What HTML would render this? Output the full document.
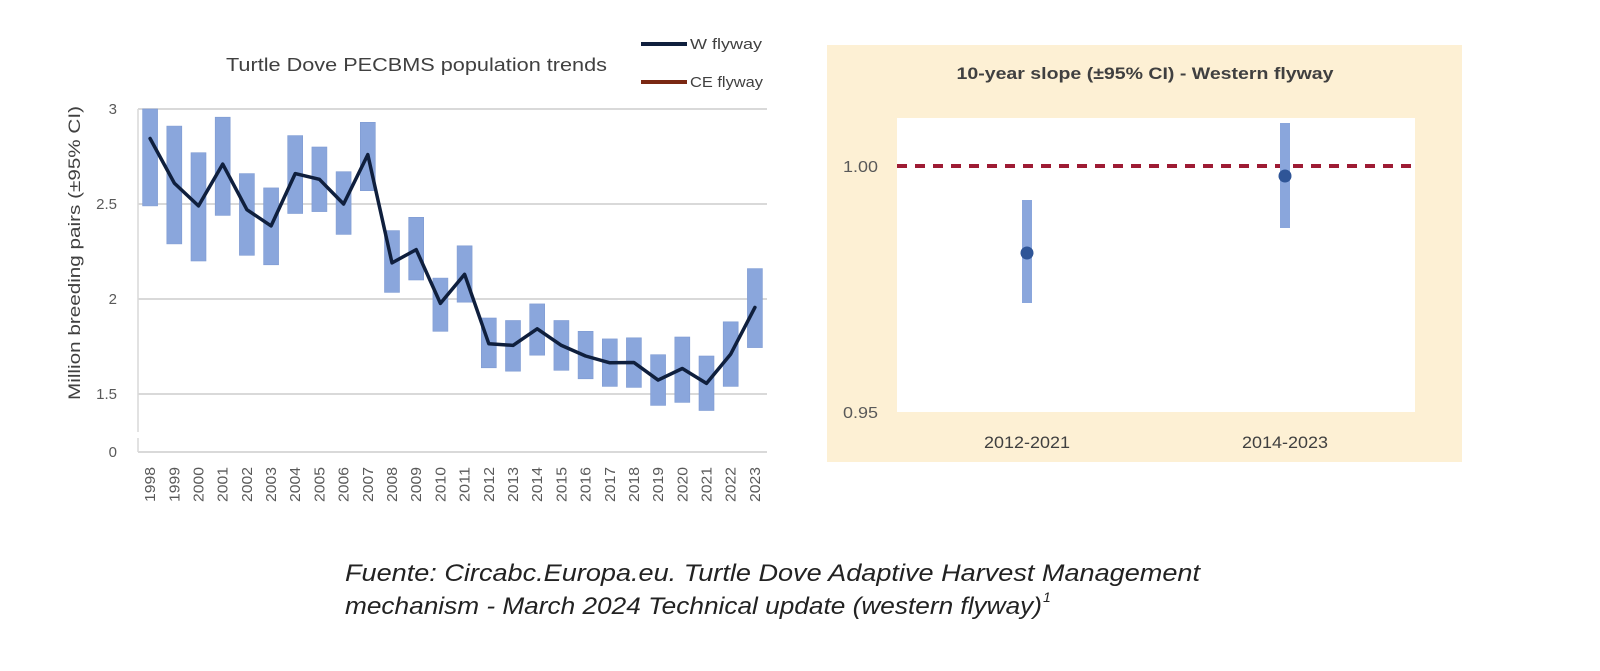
<!DOCTYPE html>
<html>
<head>
<meta charset="utf-8">
<style>
  html, body { margin: 0; padding: 0; background: #ffffff; }
  body { width: 1600px; height: 671px; overflow: hidden; }
  svg { display: block; }
  text { font-family: "Liberation Sans", "DejaVu Sans", sans-serif; }
</style>
</head>
<body>
<svg width="1600" height="671" viewBox="0 0 1600 671" xmlns="http://www.w3.org/2000/svg">
  <rect x="0" y="0" width="1600" height="671" fill="#ffffff"/>

  <!-- ================= LEFT CHART ================= -->
  <!-- Title -->
  <text x="226" y="71" font-size="18" fill="#404040" textLength="381" lengthAdjust="spacingAndGlyphs">Turtle Dove PECBMS population trends</text>

  <!-- Legend -->
  <line x1="641" y1="44" x2="687" y2="44" stroke="#0f1f3d" stroke-width="4"/>
  <text x="690" y="49" font-size="15" fill="#404040" textLength="72" lengthAdjust="spacingAndGlyphs">W flyway</text>
  <line x1="641" y1="82" x2="687" y2="82" stroke="#7a2812" stroke-width="4"/>
  <text x="690" y="87" font-size="15" fill="#404040" textLength="73" lengthAdjust="spacingAndGlyphs">CE flyway</text>

  <!-- Gridlines -->
  <g stroke="#d9d9d9" stroke-width="2">
    <line x1="138" y1="109" x2="767" y2="109"/>
    <line x1="138" y1="204" x2="767" y2="204"/>
    <line x1="138" y1="299" x2="767" y2="299"/>
    <line x1="138" y1="394" x2="767" y2="394"/>
    <line x1="138" y1="452" x2="767" y2="452"/>
  </g>
  <g stroke="#d9d9d9" stroke-width="1.5">
    <line x1="138" y1="109" x2="138" y2="432"/>
    <line x1="138" y1="438" x2="138" y2="452"/>
  </g>

  <!-- Y tick labels -->
  <g font-size="15" fill="#595959" text-anchor="end">
    <text x="117" y="114">3</text>
    <text x="117" y="209">2.5</text>
    <text x="117" y="304">2</text>
    <text x="117" y="399">1.5</text>
    <text x="117" y="457">0</text>
  </g>

  <!-- Y axis title -->
  <text transform="translate(80,253) rotate(-90)" font-size="17" fill="#404040" text-anchor="middle" textLength="294" lengthAdjust="spacingAndGlyphs">Million breeding pairs (±95% CI)</text>

  <!-- CI bars -->
  <g fill="#8aa6dc" stroke="#7f9bd2" stroke-width="0.6">
    <rect x="142.6" y="109.0" width="15" height="96.9"/>
    <rect x="166.8" y="126.1" width="15" height="117.8"/>
    <rect x="191.0" y="152.7" width="15" height="108.3"/>
    <rect x="215.2" y="117.2" width="15" height="98.2"/>
    <rect x="239.4" y="173.6" width="15" height="81.7"/>
    <rect x="263.6" y="187.9" width="15" height="76.9"/>
    <rect x="287.7" y="135.6" width="15" height="77.9"/>
    <rect x="311.9" y="147.0" width="15" height="64.6"/>
    <rect x="336.1" y="171.7" width="15" height="62.7"/>
    <rect x="360.3" y="122.3" width="15" height="68.4"/>
    <rect x="384.5" y="230.6" width="15" height="61.8"/>
    <rect x="408.7" y="217.3" width="15" height="62.7"/>
    <rect x="432.9" y="278.1" width="15" height="53.2"/>
    <rect x="457.1" y="245.8" width="15" height="56.4"/>
    <rect x="481.3" y="318.0" width="15" height="49.8"/>
    <rect x="505.5" y="320.5" width="15" height="50.7"/>
    <rect x="529.7" y="303.9" width="15" height="51.3"/>
    <rect x="553.9" y="320.5" width="15" height="49.8"/>
    <rect x="578.1" y="331.3" width="15" height="47.5"/>
    <rect x="602.3" y="338.9" width="15" height="47.5"/>
    <rect x="626.4" y="337.8" width="15" height="49.6"/>
    <rect x="650.6" y="354.7" width="15" height="50.7"/>
    <rect x="674.8" y="337.0" width="15" height="65.4"/>
    <rect x="699.0" y="356.0" width="15" height="54.5"/>
    <rect x="723.2" y="321.8" width="15" height="64.6"/>
    <rect x="747.4" y="268.6" width="15" height="79.0"/>
  </g>

  <!-- W flyway line -->
  <polyline fill="none" stroke="#0f1f3d" stroke-width="3.5" stroke-linejoin="round" stroke-linecap="round"
    points="150.1,138.5 174.3,183.1 198.5,205.9 222.7,164.1 246.9,209.7 271.1,225.9 295.2,173.6 319.4,179.3 343.6,204.0 367.8,154.6 392.0,262.9 416.2,249.6 440.4,303.4 464.6,274.3 488.8,343.7 513.0,345.4 537.2,328.8 561.4,345.4 585.6,356.0 609.8,362.8 633.9,362.5 658.1,380.1 682.3,368.5 706.5,383.4 730.7,354.1 754.9,307.4"/>

  <!-- X labels (rotated) -->
  <g font-size="15" fill="#595959" text-anchor="end">
    <text transform="translate(155.1,467) rotate(-90)" textLength="35" lengthAdjust="spacingAndGlyphs">1998</text>
    <text transform="translate(179.3,467) rotate(-90)" textLength="35" lengthAdjust="spacingAndGlyphs">1999</text>
    <text transform="translate(203.5,467) rotate(-90)" textLength="35" lengthAdjust="spacingAndGlyphs">2000</text>
    <text transform="translate(227.7,467) rotate(-90)" textLength="35" lengthAdjust="spacingAndGlyphs">2001</text>
    <text transform="translate(251.9,467) rotate(-90)" textLength="35" lengthAdjust="spacingAndGlyphs">2002</text>
    <text transform="translate(276.1,467) rotate(-90)" textLength="35" lengthAdjust="spacingAndGlyphs">2003</text>
    <text transform="translate(300.2,467) rotate(-90)" textLength="35" lengthAdjust="spacingAndGlyphs">2004</text>
    <text transform="translate(324.4,467) rotate(-90)" textLength="35" lengthAdjust="spacingAndGlyphs">2005</text>
    <text transform="translate(348.6,467) rotate(-90)" textLength="35" lengthAdjust="spacingAndGlyphs">2006</text>
    <text transform="translate(372.8,467) rotate(-90)" textLength="35" lengthAdjust="spacingAndGlyphs">2007</text>
    <text transform="translate(397.0,467) rotate(-90)" textLength="35" lengthAdjust="spacingAndGlyphs">2008</text>
    <text transform="translate(421.2,467) rotate(-90)" textLength="35" lengthAdjust="spacingAndGlyphs">2009</text>
    <text transform="translate(445.4,467) rotate(-90)" textLength="35" lengthAdjust="spacingAndGlyphs">2010</text>
    <text transform="translate(469.6,467) rotate(-90)" textLength="35" lengthAdjust="spacingAndGlyphs">2011</text>
    <text transform="translate(493.8,467) rotate(-90)" textLength="35" lengthAdjust="spacingAndGlyphs">2012</text>
    <text transform="translate(518.0,467) rotate(-90)" textLength="35" lengthAdjust="spacingAndGlyphs">2013</text>
    <text transform="translate(542.2,467) rotate(-90)" textLength="35" lengthAdjust="spacingAndGlyphs">2014</text>
    <text transform="translate(566.4,467) rotate(-90)" textLength="35" lengthAdjust="spacingAndGlyphs">2015</text>
    <text transform="translate(590.6,467) rotate(-90)" textLength="35" lengthAdjust="spacingAndGlyphs">2016</text>
    <text transform="translate(614.8,467) rotate(-90)" textLength="35" lengthAdjust="spacingAndGlyphs">2017</text>
    <text transform="translate(638.9,467) rotate(-90)" textLength="35" lengthAdjust="spacingAndGlyphs">2018</text>
    <text transform="translate(663.1,467) rotate(-90)" textLength="35" lengthAdjust="spacingAndGlyphs">2019</text>
    <text transform="translate(687.3,467) rotate(-90)" textLength="35" lengthAdjust="spacingAndGlyphs">2020</text>
    <text transform="translate(711.5,467) rotate(-90)" textLength="35" lengthAdjust="spacingAndGlyphs">2021</text>
    <text transform="translate(735.7,467) rotate(-90)" textLength="35" lengthAdjust="spacingAndGlyphs">2022</text>
    <text transform="translate(759.9,467) rotate(-90)" textLength="35" lengthAdjust="spacingAndGlyphs">2023</text>
  </g>

  <!-- ================= RIGHT PANEL ================= -->
  <rect x="827" y="45" width="635" height="417" fill="#fdf0d4"/>
  <rect x="897" y="118" width="518" height="294" fill="#ffffff"/>

  <text x="1145" y="79" font-size="17" font-weight="bold" fill="#404040" text-anchor="middle" textLength="377" lengthAdjust="spacingAndGlyphs">10-year slope (±95% CI) - Western flyway</text>

  <!-- Reference dashed line -->
  <line x1="897" y1="166" x2="1415" y2="166" stroke="#9e1b34" stroke-width="4" stroke-dasharray="10,8"/>

  <!-- Y labels -->
  <g font-size="16" fill="#595959" text-anchor="end">
    <text x="878" y="172" textLength="35" lengthAdjust="spacingAndGlyphs">1.00</text>
    <text x="878" y="418" textLength="35" lengthAdjust="spacingAndGlyphs">0.95</text>
  </g>

  <!-- CI bars + points -->
  <rect x="1022" y="200" width="10" height="103" fill="#8aa6dc"/>
  <rect x="1280" y="123" width="10" height="105" fill="#8aa6dc"/>
  <circle cx="1027" cy="253" r="6.5" fill="#2f5597"/>
  <circle cx="1285" cy="176" r="6.5" fill="#2f5597"/>

  <!-- X labels -->
  <g font-size="17" fill="#404040" text-anchor="middle">
    <text x="1027" y="448" textLength="86" lengthAdjust="spacingAndGlyphs">2012-2021</text>
    <text x="1285" y="448" textLength="86" lengthAdjust="spacingAndGlyphs">2014-2023</text>
  </g>

  <!-- ================= CAPTION ================= -->
  <g font-size="24" font-style="italic" fill="#222222">
    <text x="345" y="581" textLength="855" lengthAdjust="spacingAndGlyphs">Fuente: Circabc.Europa.eu. Turtle Dove Adaptive Harvest Management</text>
    <text x="345" y="614" textLength="697" lengthAdjust="spacingAndGlyphs">mechanism - March 2024 Technical update (western flyway)</text>
    <text x="1043" y="602" font-size="14">1</text>
  </g>
</svg>
</body>
</html>
